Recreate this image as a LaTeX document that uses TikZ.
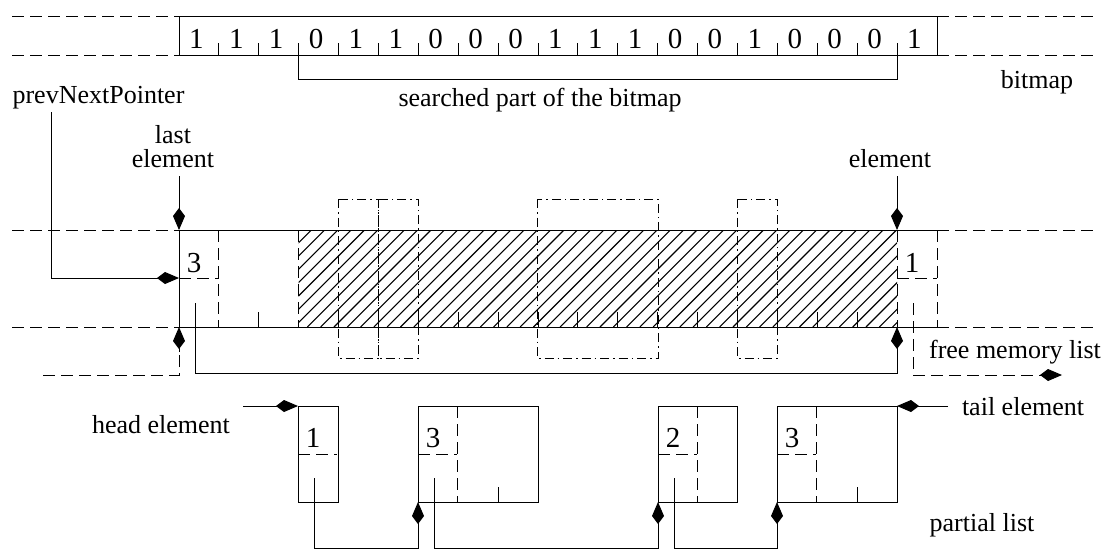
\documentclass[tikz,border=0pt]{standalone}
\usepackage{fontspec}
\setmainfont{Liberation Serif}
\usetikzlibrary{arrows.meta,calc,positioning}

\begin{document}
\begin{tikzpicture}[x=1pt, y=-1pt, line width=1pt,
  lbl/.style={font=\fontsize{26}{24}\selectfont, inner sep=0pt, anchor=base, align=center},
  num/.style={font=\fontsize{29}{29}\selectfont, inner sep=0pt, anchor=base},
  cellbox/.style={draw, rectangle, inner sep=0pt, outer sep=0pt, anchor=north west, minimum height=96pt},
  ptr/.style={-{Kite[length=22pt, width=12pt, inset=8pt]}},
  dashline/.style={dash pattern=on 12pt off 6pt},
  dashdot/.style={dash pattern=on 9pt off 4pt on 1.5pt off 4pt}
]
\useasboundingbox (0,0) rectangle (1113,550);

% bitmap
\node[draw, rectangle, inner sep=0pt, outer sep=0pt, anchor=north west,
      minimum width=758pt, minimum height=39pt] (bmp) at (179,16) {};
\foreach \b [count=\i from 0] in {1,1,1,0,1,1,0,0,0,1,1,1,0,0,1,0,0,0,1} {
  \node[num] (b\i) at (196.4+\i*39.89,48) {\b};
  \ifnum\i>0 \draw (179+\i*39.89,43) -- ++(0,12); \fi
}
\draw[dashline] (12,16) -- (bmp.north west) (12,55) -- (bmp.south west)
                (bmp.north east) -- (1097,16) (bmp.south east) -- (1097,55);
\coordinate (s0) at (298.7,55);
\coordinate (s1) at (897,55);
\draw (s0) -- ++(0,24) -| (s1);
\node[lbl] (srch) at (540,106) {searched part of the bitmap};
\node[lbl] (bmplbl) at (1037,88) {bitmap};

% memory area
\coordinate (mtl) at (179,230);
\coordinate (mbl) at (179,327);
\coordinate (mtr) at (937,230);
\coordinate (mbr) at (937,327);
\coordinate (etop) at (897,230);
\coordinate (ebot) at (897,327);
\begin{scope}
  \clip (298.7,230) rectangle (ebot);
  \foreach \k in {0,...,53}
    \draw[line width=1.1pt] (201+\k*13.3,327) -- ++(97,-97);
\end{scope}
\draw (mtr) -- (mtl) -- (mbl) -- (mbr);
\draw[dashline] (mtr) -- (mbr);
\foreach \x in {218.8,298.7,897} \draw[dashline] (\x,230) -- (\x,327);
\foreach \i in {2,4,5,...,17} \draw (179+\i*39.89,312) -- ++(0,15);
\draw[dashline] (12,230) -- (mtl) (12,327) -- (mbl)
                (mtr) -- (1097,230) (mbr) -- (1097,327);
\node[num] (m3) at (194,272) {3};
\node[num] (m1) at (912,272) {1};
\draw[dashline] (179,278) -- ++(40,0) (897,278) -- ++(40,0);
\foreach \a/\b in {338/378, 378/418, 537/658, 737/777}
  \draw[dashdot] (\a,199) rectangle (\b,358);

\node[lbl] (pnp) at (98.5,103) {prevNextPointer};
\node[lbl, anchor=south] (lastel) at (173,168) {last\\element};
\node[lbl, anchor=south] (curel) at (890,168) {element};
\node[lbl] (fml) at (1015,358) {free memory list};
\coordinate (pnpfoot) at (51,112);
\coordinate (m3mid) at (179,278);
\coordinate (m3link) at (195,303);
\coordinate (m1link) at (913,303);
\coordinate (lin) at (179,352);
\draw[ptr, shorten <=8pt] (lastel.south -| mtl) -- (mtl);
\draw[ptr, shorten <=8pt] (curel.south -| etop) -- (etop);
\draw[ptr] (pnpfoot) |- (m3mid);
\draw[ptr] (m3link) -- ++(0,70) -| (ebot);
\draw[dashline] (43,375) -| (lin);
\draw[ptr] (lin) -- (mbl);
\draw[dashline, ptr] (m1link) -- ++(0,72) -- ++(149,0);

% partial list
\node[cellbox, minimum width=40pt]  (p1) at (298,406) {};
\node[cellbox, minimum width=120pt] (p2) at (418,406) {};
\node[cellbox, minimum width=79pt]  (p3) at (658,406) {};
\node[cellbox, minimum width=120pt] (p4) at (777,406) {};
\foreach \n/\d in {p1/1, p2/3, p3/2, p4/3} {
  \node[num] (d\n) at ($(\n.north west)+(15,41)$) {\d};
  \draw[dashline] ($(\n.north west)+(0,48)$) -- ++(39,0);
  \coordinate (l\n) at ($(\n.north west)+(16,72)$);
}
\foreach \n in {p2,p3,p4} \draw[dashline] ($(\n.north west)+(39.5,0)$) -- ++(0,96);
\foreach \n in {p2,p4} \draw ($(\n.south west)+(80,0)$) -- ++(0,-15);
\foreach \a/\b in {p1/p2, p2/p3, p3/p4} \draw[ptr] (l\a) -- ++(0,70) -| (\b.south west);

\node[lbl] (headlbl) at (161,433) {head element};
\node[lbl] (taillbl) at (1023,415) {tail element};
\node[lbl] (plist) at (982,531) {partial list};
\coordinate (headin) at (243,406);
\coordinate (tailin) at (948,406);
\draw[ptr] (headin) -- (p1.north west);
\draw[ptr] (tailin) -- (p4.north east);
\end{tikzpicture}
\end{document}
